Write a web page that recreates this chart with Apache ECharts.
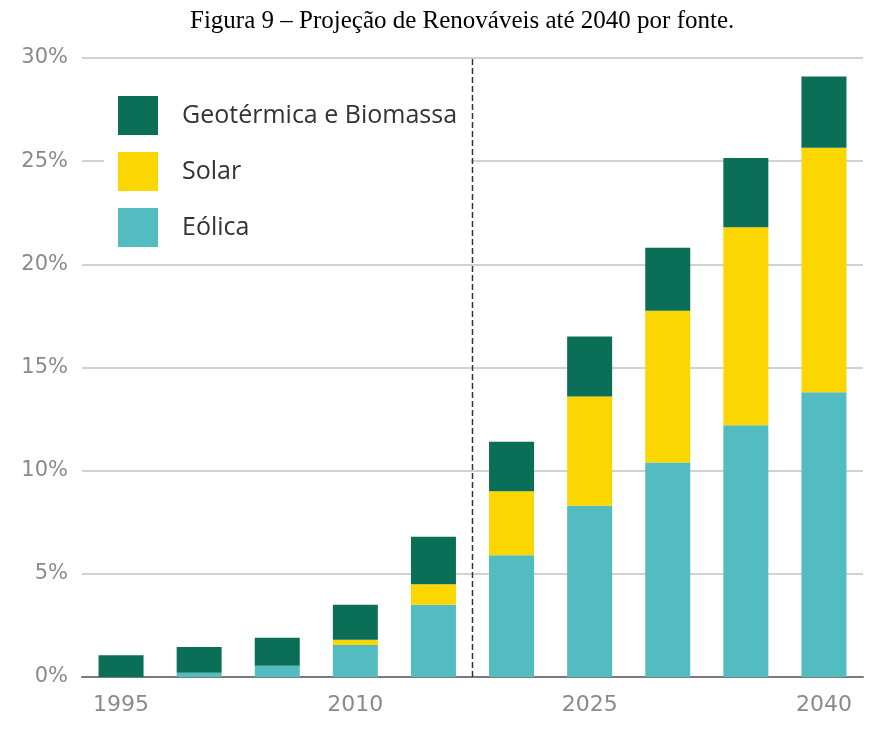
<!DOCTYPE html>
<html>
<head>
<meta charset="utf-8">
<script src="https://cdn.jsdelivr.net/npm/echarts@6/dist/echarts.min.js"></script>
<style>
html,body{margin:0;padding:0;background:#fff;}
#chart{width:874px;height:729px;}
</style>
</head>
<body>
<div id="chart"></div>
<script>
const titleText = 'Figura 9 – Projeção de Renováveis até 2040 por fonte.';
const categories = ['1995','2000','2005','2010','2015','2020','2025','2030','2035','2040'];
const eolica = [0.0, 0.2, 0.55, 1.55, 3.5, 5.9, 8.3, 10.4, 12.2, 13.8];
const solar  = [0.0, 0.0, 0.0, 0.25, 1.0, 3.1, 5.3, 7.35, 9.6, 11.85];
const geoBio = [1.05, 1.25, 1.35, 1.7, 2.3, 2.4, 2.9, 3.05, 3.35, 3.45];
const yTicks = [0, 5, 10, 15, 20, 25, 30];
const dividerAt = 4.5; // between 2015 and 2020
const seriesNames = ['Geotérmica e Biomassa', 'Solar', 'Eólica'];

const chart = echarts.init(document.getElementById('chart'));
const option = {
  animation: false,
  backgroundColor: '#ffffff',
  title: {
    text: titleText,
    left: 185,
    top: 4,
    textStyle: {fontFamily: 'Liberation Serif', fontSize: 25, fontWeight: 'normal', color: '#000'}
  },
  legend: {
    data: seriesNames,
    orient: 'vertical',
    left: 104,
    top: 82,
    itemWidth: 40,
    itemHeight: 39,
    itemGap: 17,
    padding: [14, 14, 14, 14],
    backgroundColor: '#ffffff',
    icon: 'rect',
    textStyle: {fontFamily: 'Open Sans', fontSize: 25, color: '#333', padding: [0, 0, 0, 19]},
    selectedMode: false
  },
  grid: {left: 82, right: 11, top: 58, bottom: 52, containLabel: false},
  xAxis: [{
    type: 'category',
    data: categories,
    axisLine: {lineStyle: {color: '#7a7a7a', width: 2}},
    axisTick: {show: false},
    axisLabel: {interval: 2, color: '#8a8a8a', fontFamily: 'DejaVu Sans', fontSize: 22, margin: 17}
  }, {
    type: 'value', min: -0.5, max: 9.5, show: false
  }],
  yAxis: {
    type: 'value',
    min: yTicks[0],
    max: yTicks[yTicks.length - 1],
    interval: 5,
    axisLine: {show: false},
    axisTick: {show: false},
    axisLabel: {formatter: '{value}%', color: '#8a8a8a', fontFamily: 'DejaVu Sans', fontSize: 21, margin: 14},
    splitLine: {lineStyle: {color: '#d2d2d2', width: 2}}
  },
  series: [
    {name: 'Eólica', type: 'bar', stack: 'total', data: eolica, barWidth: 45, itemStyle: {color: '#52bcc0'}},
    {name: 'Solar', type: 'bar', stack: 'total', data: solar, barWidth: 45, itemStyle: {color: '#fcd600'}},
    {name: 'Geotérmica e Biomassa', type: 'bar', stack: 'total', data: geoBio, barWidth: 45, itemStyle: {color: '#0b6e57'}},
    {name: 'divider', type: 'line', xAxisIndex: 1, data: [[dividerAt, yTicks[0]], [dividerAt, yTicks[yTicks.length - 1]]],
     symbol: 'none', z: 5, lineStyle: {color: '#333', width: 1.5, type: [6, 3]}, silent: true}
  ]
};
chart.setOption(option);
</script>
</body>
</html>
